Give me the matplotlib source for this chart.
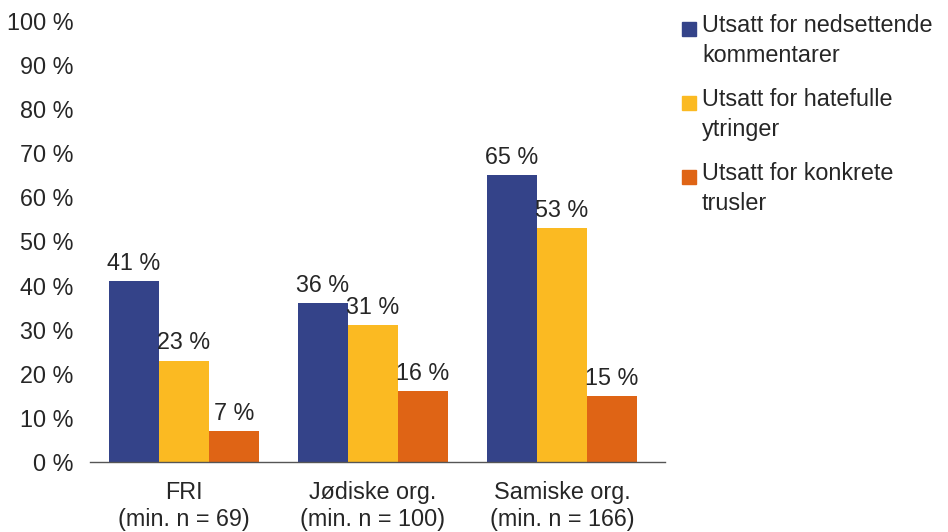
import matplotlib.pyplot as plt
import numpy as np
from matplotlib.patches import Rectangle

plt.rcParams['font.family'] = ['Liberation Sans', 'DejaVu Sans']

categories = ['FRI\n(min. n = 69)', 'Jødiske org.\n(min. n = 100)', 'Samiske org.\n(min. n = 166)']
series_names = ['Utsatt for nedsettende\nkommentarer', 'Utsatt for hatefulle\nytringer', 'Utsatt for konkrete\ntrusler']
nedsettende = [41, 36, 65]
hatefulle = [23, 31, 53]
trusler = [7, 16, 15]
yticks = [0, 10, 20, 30, 40, 50, 60, 70, 80, 90, 100]

colors = ['#344389', '#FBBA22', '#DF6415']
txt = '#262626'
fs = 16.8

fig = plt.figure(figsize=(9.48, 5.32), dpi=100)
ax = fig.add_axes([0.095, 0.1316, 0.6065, 0.829])

x = np.arange(len(categories))
w = 0.2646
data = [nedsettende, hatefulle, trusler]
for i, vals in enumerate(data):
    pos = x + (i - 1) * w
    ax.bar(pos, vals, w, color=colors[i], edgecolor='none')
    for p, v in zip(pos, vals):
        ax.annotate(f'{v} %', (p, v), xytext=(0, 8), textcoords='offset points',
                    ha='center', va='baseline', fontsize=fs, color=txt)

ax.set_xlim(-0.497, 2.545)
ax.set_ylim(0, 100)
ax.set_yticks(yticks)
ax.set_yticklabels([f'{t} %' for t in yticks])
ax.set_xticks(x)
ax.set_xticklabels(categories, linespacing=1.2)
ax.tick_params(axis='y', length=0, pad=12, labelsize=fs, labelcolor=txt)
ax.tick_params(axis='x', length=0, pad=14, labelsize=fs, labelcolor=txt)
for s in ['top', 'right', 'left']:
    ax.spines[s].set_visible(False)
ax.spines['bottom'].set_color('#555555')
ax.spines['bottom'].set_linewidth(1)

# legend drawn by hand so the square lines up with the first text line
W, H = 948, 532
for i, name in enumerate(series_names):
    top = 14 + i * 74
    fig.add_artist(Rectangle((682 / W, 1 - (top + 22) / H), 14 / W, 14 / H,
                             transform=fig.transFigure, color=colors[i]))
    fig.text(702 / W, 1 - top / H, name, fontsize=fs, color=txt,
             va='top', ha='left', linespacing=1.38)

fig.savefig('out.png', dpi=100)
